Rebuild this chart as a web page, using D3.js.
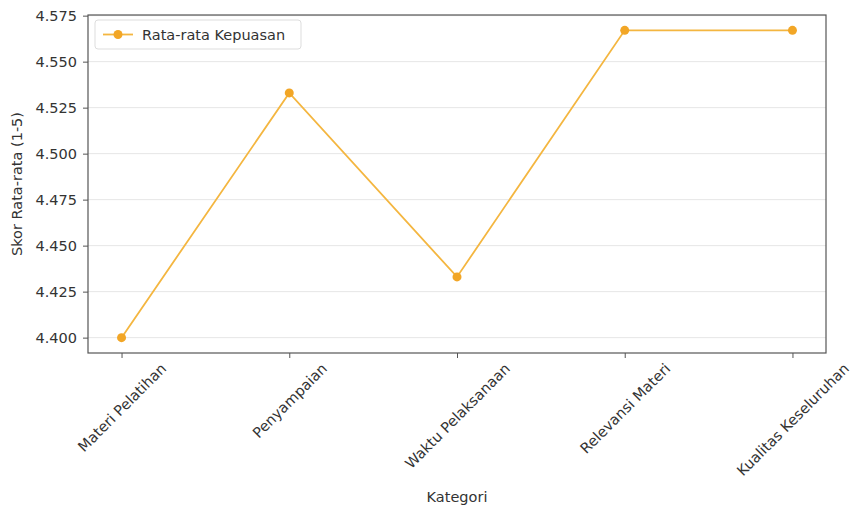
<!DOCTYPE html>
<html>
<head>
<meta charset="utf-8">
<script src="https://cdn.jsdelivr.net/npm/d3@7"></script>
<style>
  body { margin: 0; background: #fff; }
  text { font-family: "DejaVu Sans", sans-serif; fill: #333; }
</style>
</head>
<body>
<div id="chart"></div>
<script>
var categories = ['Materi Pelatihan', 'Penyampaian', 'Waktu Pelaksanaan', 'Relevansi Materi', 'Kualitas Keseluruhan'];
var scores = [4.400, 4.533, 4.433, 4.567, 4.567];
var yTicks = [4.400, 4.425, 4.450, 4.475, 4.500, 4.525, 4.550, 4.575];
var seriesName = 'Rata-rata Kepuasan';

var W = 851, H = 508;
var mLeft = 88, mRight = 826, mTop = 15, mBottom = 353;
var fs = '14.5px';

var svg = d3.select('#chart').append('svg')
  .attr('width', W)
  .attr('height', H);

var x = d3.scaleLinear().domain([-0.2, categories.length - 1 + 0.2]).range([mLeft, mRight]);
var lo = d3.min(scores), hi = d3.max(scores), pad = (hi - lo) * 0.05;
var y = d3.scaleLinear().domain([lo - pad, hi + pad]).range([mBottom, mTop]);

// grid
svg.append('g').selectAll('line').data(yTicks)
  .enter().append('line')
  .attr('x1', mLeft).attr('x2', mRight)
  .attr('y1', function (d) { return y(d); })
  .attr('y2', function (d) { return y(d); })
  .attr('stroke', '#e6e6e6')
  .attr('stroke-width', 1);

// axes
var yAxis = svg.append('g')
  .attr('transform', 'translate(' + mLeft + ',0)')
  .call(d3.axisLeft(y).tickValues(yTicks).tickFormat(d3.format('.3f')).tickSize(5).tickPadding(6));
var xAxis = svg.append('g')
  .attr('transform', 'translate(0,' + mBottom + ')')
  .call(d3.axisBottom(x).tickValues(d3.range(categories.length)).tickFormat(function (i) { return categories[i]; }).tickSize(5));

[yAxis, xAxis].forEach(function (g) {
  g.select('.domain').remove();
  g.selectAll('.tick line').attr('stroke', '#555');
  g.selectAll('.tick text').style('font-size', fs).attr('fill', '#333');
});

// rotated labels, centred under the tick like matplotlib
xAxis.selectAll('.tick text')
  .attr('text-anchor', 'middle')
  .attr('dy', '0.35em')
  .attr('y', 0)
  .attr('transform', function () {
    var L = this.getComputedTextLength();
    var h = (L + 14) * Math.SQRT1_2;
    return 'translate(0,' + (8 + h / 2) + ') rotate(-45)';
  });

// frame
svg.append('rect')
  .attr('x', mLeft).attr('y', mTop)
  .attr('width', mRight - mLeft).attr('height', mBottom - mTop)
  .attr('fill', 'none')
  .attr('stroke', '#555')
  .attr('stroke-width', 1.2);

// line
var line = d3.line()
  .x(function (d, i) { return x(i); })
  .y(function (d) { return y(d); });

svg.append('path').datum(scores)
  .attr('d', line)
  .attr('fill', 'none')
  .attr('stroke', '#f4b640')
  .attr('stroke-width', 1.8);

svg.selectAll('circle.pt').data(scores)
  .enter().append('circle')
  .attr('class', 'pt')
  .attr('r', 4.5)
  .attr('cx', function (d, i) { return x(i); })
  .attr('cy', function (d) { return y(d); })
  .attr('fill', '#f2a626');

// legend
var lg = svg.append('g').attr('transform', 'translate(95,20)');
lg.append('rect')
  .attr('width', 206).attr('height', 29).attr('rx', 3)
  .attr('fill', '#fff').attr('stroke', '#ddd');
lg.append('line')
  .attr('x1', 8).attr('x2', 38).attr('y1', 14.5).attr('y2', 14.5)
  .attr('stroke', '#f4b640').attr('stroke-width', 1.8);
lg.append('circle').attr('cx', 23).attr('cy', 14.5).attr('r', 4.5).attr('fill', '#f2a626');
lg.append('text').attr('x', 47).attr('y', 19.5)
  .style('font-size', fs).text(seriesName);

// axis labels
svg.append('text')
  .attr('x', (mLeft + mRight) / 2).attr('y', 502)
  .attr('text-anchor', 'middle')
  .style('font-size', fs)
  .text('Kategori');
svg.append('text')
  .attr('transform', 'translate(22,' + (mTop + mBottom) / 2 + ') rotate(-90)')
  .attr('text-anchor', 'middle')
  .style('font-size', fs)
  .text('Skor Rata-rata (1-5)');
</script>
</body>
</html>
